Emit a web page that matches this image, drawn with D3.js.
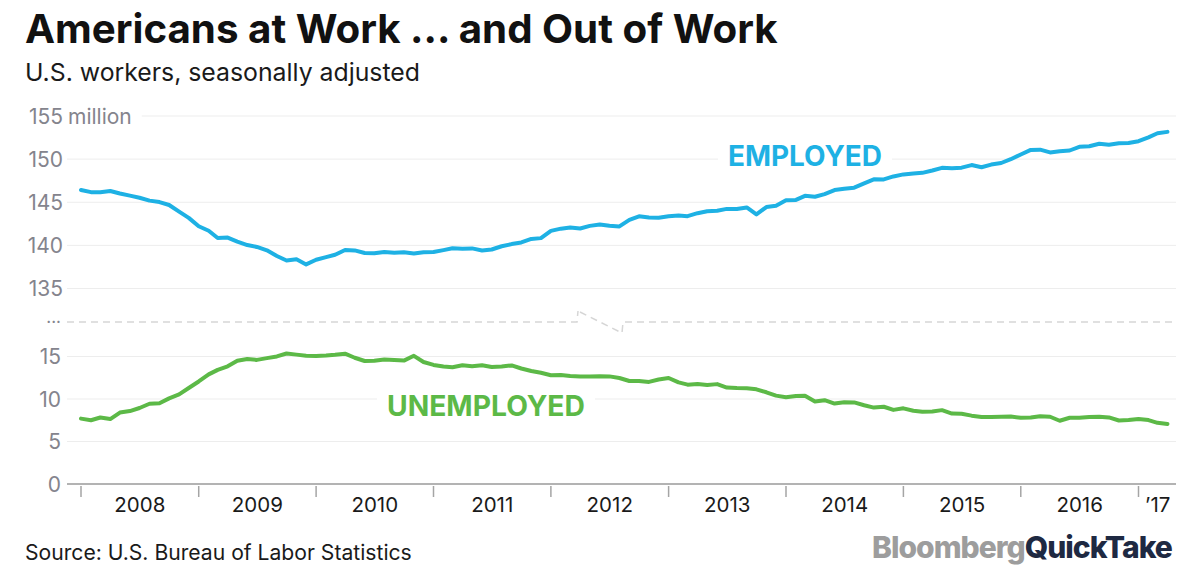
<!DOCTYPE html>
<html>
<head>
<meta charset="utf-8">
<script src="https://cdn.jsdelivr.net/npm/d3@7"></script>
<style>
  body { margin: 0; background: #fff; }
  svg { display: block; }
</style>
</head>
<body>
<div class="chart"></div>
<script>
// monthly values, Jan 2008 .. Apr 2017, millions of people
var employed = [
  146.42, 146.17, 146.17, 146.31, 146.02, 145.77, 145.52, 145.19, 145.02, 144.68, 143.91, 143.19,
  142.22, 141.69, 140.85, 140.90, 140.44, 140.04, 139.82, 139.43, 138.77, 138.24, 138.38, 137.79,
  138.33, 138.64, 138.91, 139.46, 139.42, 139.12, 139.08, 139.24, 139.14, 139.20, 139.06, 139.19,
  139.23, 139.45, 139.66, 139.62, 139.65, 139.41, 139.52, 139.90, 140.15, 140.34, 140.75, 140.84,
  141.68, 141.94, 142.08, 141.96, 142.26, 142.43, 142.27, 142.20, 142.95, 143.37, 143.23, 143.21,
  143.38, 143.46, 143.39, 143.73, 143.95, 144.01, 144.23, 144.22, 144.40, 143.59, 144.44, 144.59,
  145.22, 145.27, 145.74, 145.64, 145.95, 146.41, 146.57, 146.69, 147.19, 147.66, 147.65, 147.99,
  148.23, 148.34, 148.41, 148.68, 148.99, 148.95, 149.01, 149.31, 149.06, 149.37, 149.55, 149.99,
  150.54, 151.07, 151.10, 150.78, 150.92, 151.00, 151.43, 151.49, 151.78, 151.66, 151.84, 151.87,
  152.08, 152.53, 153.00, 153.16
];
var unemployed = [
  7.69, 7.50, 7.82, 7.64, 8.40, 8.58, 8.94, 9.44, 9.49, 10.07, 10.54, 11.29,
  12.06, 12.90, 13.43, 13.85, 14.50, 14.71, 14.60, 14.81, 15.01, 15.35, 15.22, 15.10,
  15.05, 15.11, 15.20, 15.33, 14.85, 14.47, 14.51, 14.65, 14.58, 14.52, 15.08, 14.35,
  14.01, 13.82, 13.74, 13.96, 13.86, 13.96, 13.76, 13.82, 13.95, 13.59, 13.30, 13.09,
  12.80, 12.81, 12.71, 12.65, 12.66, 12.69, 12.66, 12.47, 12.12, 12.12, 12.01, 12.30,
  12.47, 11.95, 11.69, 11.76, 11.65, 11.75, 11.34, 11.28, 11.27, 11.14, 10.79, 10.40,
  10.20, 10.35, 10.38, 9.70, 9.86, 9.46, 9.61, 9.60, 9.26, 8.99, 9.09, 8.72,
  8.90, 8.61, 8.50, 8.53, 8.69, 8.28, 8.27, 8.04, 7.89, 7.89, 7.92, 7.93,
  7.80, 7.82, 7.97, 7.91, 7.44, 7.79, 7.79, 7.89, 7.92, 7.83, 7.47, 7.53,
  7.64, 7.52, 7.20, 7.06
];
var years = [2008, 2009, 2010, 2011, 2012, 2013, 2014, 2015, 2016, 2017];
var yearLabels = ['2008', '2009', '2010', '2011', '2012', '2013', '2014', '2015', '2016', '\u201917'];
var topTicks = [155, 150, 145, 140, 135];
var bottomTicks = [15, 10, 5, 0];

const width = 1200, height = 570;
const plotLeft = 67, plotRight = 1176;
const breakY = 322;
const blue = '#1eb1e4', green = '#5cb947';
const font = 'Inter, "Noto Sans", sans-serif';

var dates = employed.map((d, i) => new Date(2008, i, 1));

var svg = d3.select('.chart')
            .append('svg')
            .attr('width', width)
            .attr('height', height);

var x = d3.scaleTime()
          .domain([new Date(2008, 0, 1), new Date(2017, 0, 1)])
          .range([81, 1138.5]);
var yTop = d3.scaleLinear().domain([135, 155]).range([288.5, 116]);
var yBot = d3.scaleLinear().domain([0, 15]).range([484, 356.5]);

// shrink/grow font so text spans a given width
function fitText(sel, target) {
    var fs = parseFloat(sel.style('font-size'));
    var len = sel.node().getComputedTextLength();
    sel.style('font-size', (fs * target / len) + 'px');
    return sel;
}

// titles
fitText(svg.append('text')
    .attr('x', 25).attr('y', 43)
    .style('font-family', font).style('font-weight', 700)
    .style('font-size', '36px').style('fill', '#111')
    .text('Americans at Work ... and Out of Work'), 753);

fitText(svg.append('text')
    .attr('x', 25).attr('y', 81)
    .style('font-family', font).style('font-size', '20px').style('fill', '#1a1a1a')
    .text('U.S. workers, seasonally adjusted'), 395);

// y labels top panel
var tickFont = '21px';
var tickGray = '#84848d';
svg.append('g').selectAll('text')
    .data(topTicks).enter().append('text')
    .attr('x', 63)
    .attr('y', d => yTop(d))
    .attr('dy', '0.36em')
    .attr('text-anchor', 'end')
    .style('font-family', font).style('font-size', tickFont).style('fill', tickGray)
    .text(d => d);

var million = svg.append('text')
    .attr('x', 68).attr('y', yTop(155)).attr('dy', '0.36em')
    .style('font-family', font).style('font-size', tickFont).style('fill', tickGray)
    .text('million');
var millionEnd = 68 + million.node().getComputedTextLength();

// gridlines
svg.append('g').selectAll('line')
    .data(topTicks).enter().append('line')
    .attr('x1', d => d === 155 ? millionEnd + 10 : plotLeft)
    .attr('x2', plotRight)
    .attr('y1', d => yTop(d)).attr('y2', d => yTop(d))
    .attr('stroke', '#ededed').attr('stroke-width', 1);

svg.append('g').selectAll('line')
    .data(bottomTicks.filter(d => d > 0)).enter().append('line')
    .attr('x1', plotLeft).attr('x2', plotRight)
    .attr('y1', d => yBot(d)).attr('y2', d => yBot(d))
    .attr('stroke', '#ededed').attr('stroke-width', 1);

svg.append('g').selectAll('text')
    .data(bottomTicks).enter().append('text')
    .attr('x', 61)
    .attr('y', d => yBot(d))
    .attr('dy', '0.36em')
    .attr('text-anchor', 'end')
    .style('font-family', font).style('font-size', tickFont).style('fill', tickGray)
    .text(d => d);

// axis break
svg.append('text')
    .attr('x', 61).attr('y', breakY + 1)
    .attr('text-anchor', 'end')
    .style('font-family', font).style('font-size', '17px').style('fill', tickGray)
    .text('...');

var brk = d3.path();
brk.moveTo(plotLeft, breakY);
brk.lineTo(577, breakY);
brk.lineTo(578, 311);
brk.moveTo(580, 312);
brk.lineTo(622, 333);
brk.lineTo(623, breakY);
brk.lineTo(plotRight, breakY);
svg.append('path')
    .attr('d', brk.toString())
    .attr('fill', 'none')
    .attr('stroke', '#d6d6d6')
    .attr('stroke-width', 1.5)
    .attr('stroke-dasharray', '7,5');

// x axis
svg.append('line')
    .attr('x1', plotLeft).attr('x2', plotRight)
    .attr('y1', 484).attr('y2', 484)
    .attr('stroke', '#9a9a9a').attr('stroke-width', 1.5);

svg.append('g').selectAll('line')
    .data(years).enter().append('line')
    .attr('x1', d => x(new Date(d, 0, 1))).attr('x2', d => x(new Date(d, 0, 1)))
    .attr('y1', 486).attr('y2', 497)
    .attr('stroke', '#a5a5a5').attr('stroke-width', 1.5);

svg.append('g').selectAll('text')
    .data(years).enter().append('text')
    .attr('x', (d, i) => {
        var a = x(new Date(d, 0, 1));
        var b = i < years.length - 1 ? x(new Date(d + 1, 0, 1)) : plotRight + 1;
        return (a + b) / 2;
    })
    .attr('y', 512)
    .attr('text-anchor', 'middle')
    .style('font-family', font).style('font-size', '20.5px').style('fill', '#1a1a1a')
    .text((d, i) => yearLabels[i]);

// series labels with white backing
function seriesLabel(txt, xPos, yPos, w, color) {
    var g = svg.append('g');
    var rect = g.append('rect').attr('fill', '#fff');
    var t = g.append('text')
        .attr('x', xPos).attr('y', yPos)
        .style('font-family', font).style('font-weight', 700)
        .style('font-size', '24px').style('fill', color)
        .text(txt);
    fitText(t, w);
    var bb = t.node().getBBox();
    rect.attr('x', bb.x - 10).attr('y', bb.y).attr('width', bb.width + 20).attr('height', bb.height);
}

// lines
var lineTop = d3.line()
    .x((d, i) => x(dates[i]))
    .y(d => yTop(d));
var lineBot = d3.line()
    .x((d, i) => x(dates[i]))
    .y(d => yBot(d));

seriesLabel('EMPLOYED', 728, 166, 154, blue);
seriesLabel('UNEMPLOYED', 387, 416, 198, green);

svg.append('path')
    .datum(employed)
    .attr('d', lineTop)
    .attr('fill', 'none')
    .attr('stroke', blue)
    .attr('stroke-width', 4)
    .attr('stroke-linejoin', 'round')
    .attr('stroke-linecap', 'round');

svg.append('path')
    .datum(unemployed)
    .attr('d', lineBot)
    .attr('fill', 'none')
    .attr('stroke', green)
    .attr('stroke-width', 4)
    .attr('stroke-linejoin', 'round')
    .attr('stroke-linecap', 'round');

// footer
fitText(svg.append('text')
    .attr('x', 25).attr('y', 560)
    .style('font-family', font).style('font-size', '19px').style('fill', '#1a1a1a')
    .text('Source: U.S. Bureau of Labor Statistics'), 387);

var logo = svg.append('text')
    .attr('x', 872).attr('y', 558)
    .style('font-family', font).style('font-weight', 800)
    .style('font-size', '30px').style('letter-spacing', '-1px');
logo.append('tspan').style('fill', '#9d9d9d').text('Bloomberg');
logo.append('tspan').style('fill', '#1e2942').text('QuickTake');
fitText(logo, 300);
</script>
</body>
</html>
